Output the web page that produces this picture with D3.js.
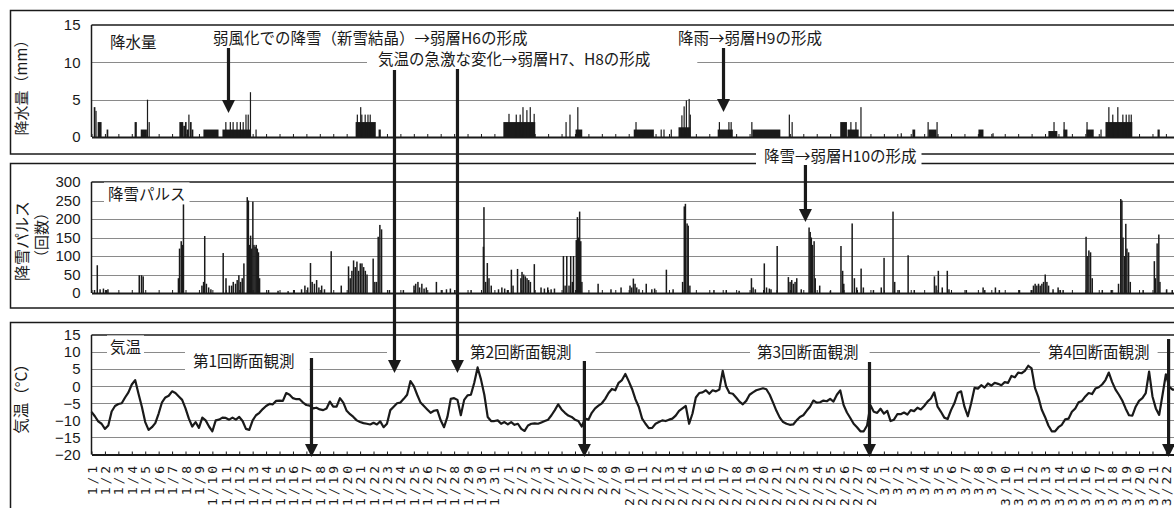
<!DOCTYPE html>
<html>
<head>
<meta charset="utf-8">
<script src="https://cdn.jsdelivr.net/npm/d3@7"></script>
<style>
  body { margin: 0; background: #fff; }
  svg { display: block; }
  text { font-family: "Noto Sans CJK JP", "Liberation Sans", sans-serif; fill: #1a1a1a; }
  .num { font-family: "Liberation Sans", Arial, sans-serif; }
</style>
</head>
<body>
<svg id="chart" width="1174" height="508"></svg>
<script>
// date labels, one per day from 1/1
const dayLabels = ("1/1 1/2 1/3 1/4 1/5 1/6 1/7 1/8 1/9 1/10 1/11 1/12 1/13 1/14 1/15 1/16 1/17 1/18 1/19 1/20 " +
  "1/21 1/22 1/23 1/24 1/25 1/26 1/27 1/28 1/29 1/30 1/31 2/1 2/2 2/3 2/4 2/5 2/6 2/7 2/8 2/9 2/10 " +
  "2/11 2/12 2/13 2/14 2/15 2/16 2/17 2/18 2/19 2/20 2/21 2/22 2/23 2/24 2/25 2/26 2/27 2/28 " +
  "3/1 3/2 3/3 3/4 3/5 3/6 3/7 3/8 3/9 3/10 3/11 3/12 3/13 3/14 3/15 3/16 3/17 3/18 3/19 3/20 3/21 3/22").split(" ");

// precipitation: [start hour from 1/1 0:00, hours, mm]
const precipRuns = [
  [4,3,4],[7,2,3.5],[11,7,2],[27,3,1],[77,4,2],[88,11,1],[99,2,5],[102,2,2],
  [157,7,2],[164,3,1.5],[167,3,2],[170,4,1],[173,2,3],[176,3,2],[179,3,1],
  [200,27,1],[234,50,1],[239,2,2],[247,2,2],[252,2,2],[259,2,2],[265,2,2],[270,2,2],
  [275,2,3],[279,2,3],[283,2,6],[293,2,1],
  [472,36,2],[474,2,3],[480,2,4],[482,2,3],[488,2,3],[493,2,3],[497,2,3],[513,4,1],
  [736,57,2],[745,2,3.1],[758,2,3],[765,2,3],[770,2,4],[777,2,3.6],[783,2,4],[790,2,3.1],
  [847,2,2],[854,2,3],[865,12,1],[868,2,4],
  [969,36,1],[972,2,2],[1017,2,1],[1022,2,1],[1035,2,1],
  [1049,21,1.3],[1054,2,2.9],[1058,2,4.1],[1062,2,4.9],[1067,2,5.1],[1069,2,3],
  [1119,27,1],[1121,2,2],[1138,2,2],[1142,2,2],[1179,2,2],[1181,50,1],
  [1246,2,3],[1251,2,2],[1338,12,2],[1351,20,1],[1356,2,2],[1365,2,2],[1374,2,4],
  [1446,2,0.5],[1467,5,1],[1494,2,2],[1496,14,1],[1510,2,2],[1585,9,1],[1610,2,0.5],
  [1710,16,0.8],[1719,2,2],[1737,2,2],[1737,7,1],[1778,2,2],[1778,13,1],
  [1803,2,1],[1812,48,2],[1817,2,4],[1824,2,3],[1833,2,4],[1842,2,3],[1848,2,3],
  [1853,2,3],[1857,2,3],[1905,4,1]
];

// snow pulse counts: [hour, count]
const pulseBars = [
  [4,8],[9,75],[14,10],[20,12],[25,8],[28,10],[84,48],[88,48],[91,45],
  [154,40],[156,120],[159,140],[161,130],[163,250],
  [196,20],[199,30],[201,154],[204,25],[208,15],[212,10],[234,108],[239,40],[245,20],
  [249,20],[252,30],[256,25],[259,35],[262,48],[265,30],[268,40],[271,80],
  [277,259],[279,250],[281,130],[283,155],[285,120],[287,247],[289,130],[291,125],
  [293,130],[295,120],[297,110],[299,40],
  [315,8],[332,6],[350,5],[361,8],[374,10],[380,20],[385,15],[390,81],[393,30],[397,25],
  [401,35],[405,15],[410,20],[415,10],[427,113],[445,20],
  [458,72],[461,40],[464,60],[467,88],[470,70],[473,85],[476,60],[479,80],[482,80],
  [485,70],[488,60],[491,50],[502,93],[505,30],[508,30],[511,152],[514,184],[517,172],
  [531,8],[556,8],[575,20],[578,25],[582,30],[585,15],[589,25],[593,12],[597,15],[615,30],
  [625,8],[633,10],[640,12],[648,8],[652,12],[677,8],
  [699,125],[700,232],[703,30],[706,81],[709,40],[713,20],[726,10],[732,15],[737,12],[742,8],
  [749,63],[752,20],[760,65],[766,40],[768,57],[771,50],[774,45],[777,40],[780,35],[783,30],
  [790,78],[802,15],[808,12],[814,15],[820,10],[826,12],
  [842,100],[845,20],[848,100],[852,20],[855,100],[858,30],[860,100],
  [865,143],[867,205],[869,150],[871,220],[873,140],[875,30],
  [904,25],[927,10],[945,15],[961,20],[964,15],[967,39],[970,25],[973,15],[977,10],[990,25],
  [1000,10],[1005,12],[1026,63],[1038,10],
  [1055,30],[1058,234],[1060,241],[1063,188],[1065,182],[1068,20],
  [1111,8],[1133,8],[1156,6],[1178,40],[1181,15],[1185,10],[1201,80],[1205,15],[1210,12],
  [1213,10],[1224,127],[1244,43],[1247,30],[1250,35],[1253,25],[1256,30],[1259,40],[1267,10],
  [1281,177],[1283,165],[1285,150],[1287,130],[1290,140],[1292,40],[1300,20],[1319,6],
  [1338,127],[1341,60],[1343,25],[1358,188],[1362,40],[1366,15],[1374,66],[1378,15],[1396,8],
  [1410,15],[1415,95],[1431,220],[1434,30],[1442,8],[1458,102],[1469,8],
  [1505,45],[1508,20],[1512,60],[1519,15],[1528,60],[1531,10],[1562,8],[1592,15],[1595,8],
  [1614,15],[1621,8],[1657,8],[1678,8],
  [1682,20],[1685,25],[1688,20],[1691,25],[1694,20],[1697,25],[1700,30],[1703,50],[1706,30],
  [1709,20],[1717,10],[1726,15],[1730,8],[1735,8],
  [1776,152],[1778,100],[1781,115],[1784,110],[1787,40],[1805,8],[1821,8],[1834,25],
  [1838,254],[1840,250],[1842,150],[1845,100],[1847,187],[1849,120],[1852,110],[1855,30],
  [1878,8],[1898,86],[1900,40],[1903,134],[1906,158],[1908,30],[1920,10],[1930,8]
];

// air temperature every 6 hours from 1/1 0:00 (°C)
const tempC = [
  -7.5,-8.8,-10.3,-11, -12.5,-11.5,-7.4,-5.8, -5.2,-5,-3.3,-1.8, 0.5,1.8,-2.2,-6,
  -10.5,-12.8,-12,-10.8, -8,-4.7,-3.3,-2.8, -1.5,-2,-3,-4, -6.5,-9.5,-11.8,-10.5,
  -12.2,-9.2,-10,-11.8, -13.2,-10,-9.8,-9.2, -9.3,-9.8,-9.2,-9.8, -9,-10.2,-12.5,-12.8,
  -10,-8.5,-7.8,-6.7, -5.8,-5.2,-5.3,-4.3, -4.2,-4.3,-2,-2.5, -3.5,-3.8,-3.8,-4.8,
  -5.5,-5.7,-6.5,-6.3, -6.8,-7,-6.5,-4.5, -6,-6,-3.5,-4.8, -7.2,-8.2,-9,-10,
  -10.5,-10.8,-11,-11.2, -10.7,-11.2,-10.3,-12, -11,-7,-6,-5, -4.8,-3.7,-2.5,1.5,
  0,-2.5,-4.8,-5.8, -6.8,-7.8,-7.2,-7, -10,-12,-9,-3.7, -3.5,-4,-8.5,-4,
  -2.7,-2.5,1,5.5, 2,-2.5,-9,-10.2, -10.2,-10,-11,-10.5, -11.2,-10.5,-11.3,-11,
  -12.5,-13.1,-11.5,-11, -10.9,-11,-10.6,-10.2, -9.8,-8.5,-7,-5.3, -6.8,-7.8,-8.6,-9,
  -9.8,-10.2,-11.8,-9.5, -9.8,-7.8,-6.5,-5.7, -5,-3.7,-2,-0.8, -1.2,1,1.8,3.6,
  1.5,-0.8,-3.8,-6, -9.5,-11,-12.3,-12.2, -11,-10.5,-10,-10.2, -9.8,-9.5,-8.6,-7.2,
  -6.5,-5.8,-11,-8, -3.3,-2,-1.8,-1.2, -2.2,-1.2,-1.5,-1, 4.5,0,-2,-2.2,
  -3.3,-4.5,-5.3,-4.3, -2.5,-1.8,-1.2,-0.9, -0.6,-0.9,-2.5,-4.8, -7.2,-9.2,-10.5,-11,
  -11.3,-11.2,-10,-9, -8.5,-7.2,-6,-4.2, -4.8,-4.7,-4.2,-4.4, -3.7,-4.5,-2.5,-1.2,
  -5.5,-7.7,-9.3,-11, -12,-13.2,-13.2,-11.5, -5.6,-7.5,-7.8,-6.6, -8,-7.2,-10.2,-9.8,
  -8.2,-8.2,-7.7,-8.3, -7,-7.3,-6.3,-6.8, -5.8,-4.5,-3.6,-1.8, -6,-7.5,-9.2,-9.6,
  -7,-5,-2,-1.5, -6,-8.8,-5,-0.5, -0.7,0.3,-0.4,0.8, 0.2,1,0.7,0.3,
  1.2,1,3,2.6, 4,3.8,4.5,6, 5.2,-0.5,-3.2,-6.8, -9,-11.5,-13.2,-13.2,
  -12,-11.3,-9.7,-9.5, -7.5,-6.5,-4.7,-4.3, -3,-2,-2.3,-0.7, -0.3,0.5,1.8,4,
  1.2,-1,-2.5,-4.2, -6.5,-8.5,-8.6,-6, -4.3,-3.5,-2,4.3, -3,-6.5,-8.4,-2.5,
  3.5,-0.2,-1,-1
];

const svg = d3.select("#chart");
const INK = "#1a1a1a";

const x = d3.scaleLinear().domain([0, 81]).range([91.5, 91.5 + 81 * 13.43]);
const hx = h => x(h / 24);

const yP = d3.scaleLinear().domain([0, 15]).range([137, 25]);
const yS = d3.scaleLinear().domain([0, 300]).range([293, 182]);
const yT = d3.scaleLinear().domain([-20, 15]).range([454.5, 335]);

// outer boxes
[[10.5, 154], [163.5, 308], [322.5, 530]].forEach(([t, b]) => {
  svg.append("rect")
    .attr("x", 10.5).attr("y", t)
    .attr("width", 1200).attr("height", b - t)
    .attr("fill", "none").attr("stroke", INK).attr("stroke-width", 1.5);
});

function panel(y, grid, ticks) {
  const g = svg.append("g");
  g.selectAll(".grid").data(grid).join("line")
    .attr("x1", x(0)).attr("x2", 1200)
    .attr("y1", d => Math.round(y(d)) + 0.5).attr("y2", d => Math.round(y(d)) + 0.5)
    .attr("stroke", "#8a8a8a").attr("stroke-width", 1);
  const [lo, hi] = y.domain();
  g.append("line").attr("x1", x(0)).attr("x2", 1200)
    .attr("y1", y(hi)).attr("y2", y(hi)).attr("stroke", INK).attr("stroke-width", 1.5);
  g.append("line").attr("x1", x(0)).attr("x2", x(0))
    .attr("y1", y(hi)).attr("y2", y(lo)).attr("stroke", INK).attr("stroke-width", 1.5);
  const ax = g.append("g")
    .attr("transform", `translate(${x(0)},0)`)
    .call(d3.axisLeft(y).tickValues(ticks).tickSize(0).tickPadding(11));
  ax.select(".domain").remove();
  ax.selectAll("text").attr("class", "num").style("font-size", "15px").attr("fill", INK);
  return g;
}

function baseline(y) {
  const [lo] = y.domain();
  const g = svg.append("g").attr("transform", `translate(0,${y(lo)})`)
    .call(d3.axisBottom(x).tickValues(d3.range(0, 82)).tickSize(-3).tickSizeOuter(0).tickFormat(""));
  g.select(".domain").attr("stroke", INK).attr("stroke-width", 2);
  g.selectAll(".tick line").attr("stroke", INK).attr("stroke-width", 1);
}

// ---- panel 1: precipitation
const p1 = panel(yP, [5, 10], [0, 5, 10, 15]);
p1.selectAll(".bar").data(precipRuns).join("rect")
  .attr("x", d => hx(d[0]))
  .attr("width", d => Math.max(1.2, hx(d[0] + d[1]) - hx(d[0])))
  .attr("y", d => yP(d[2]))
  .attr("height", d => yP(0) - yP(d[2]))
  .attr("fill", INK);
baseline(yP);

// ---- panel 2: snow pulses
const p2 = panel(yS, [50, 100, 150, 200, 250], [0, 50, 100, 150, 200, 250, 300]);
p2.selectAll(".bar").data(pulseBars).join("rect")
  .attr("x", d => hx(d[0]))
  .attr("width", 1.5)
  .attr("y", d => yS(d[1]))
  .attr("height", d => yS(0) - yS(d[1]))
  .attr("fill", INK);
baseline(yS);

// ---- panel 3: air temperature
const p3 = panel(yT, [10, 5, 0, -5, -10, -15], [15, 10, 5, 0, -5, -10, -15, -20]);
p3.append("path")
  .datum(tempC)
  .attr("fill", "none").attr("stroke", INK).attr("stroke-width", 2.2)
  .attr("stroke-linejoin", "round")
  .attr("d", d3.line().x((d, i) => x(i / 4)).y(d => yT(d)));
baseline(yT);

svg.append("g").selectAll("text").data(dayLabels).join("text")
  .attr("transform", (d, i) => `translate(${x(i) + 0.5},463) rotate(-90)`)
  .attr("text-anchor", "end").attr("dy", "0.35em")
  .style("font-family", "'DejaVu Sans Mono', monospace")
  .style("font-size", "13px").style("letter-spacing", "2.9px")
  .text(d => d);

// ---- axis titles
function vtitle(t, cx, cy, size) {
  svg.append("text").attr("transform", `translate(${cx},${cy}) rotate(-90)`)
    .attr("text-anchor", "middle").attr("dy", "0.35em")
    .style("font-size", size + "px").text(t);
}
vtitle("降水量（mm）", 22, 84, 15);
vtitle("降雪パルス", 22, 241, 16);
vtitle("（回数）", 42, 235, 15);
vtitle("気温（°C）", 22, 395, 15.5);

// ---- notes with white backing
function note(t, left, cy, size, padL = 4, padR = 4) {
  const g = svg.append("g");
  const r = g.append("rect").attr("fill", "#fff");
  const tx = g.append("text").attr("x", left).attr("y", cy).attr("dy", "0.35em")
    .style("font-size", size + "px").text(t);
  const b = tx.node().getBBox();
  r.attr("x", b.x - padL).attr("y", b.y).attr("width", b.width + padL + padR).attr("height", b.height);
}
note("降水量", 110, 43, 15.5);
note("降雪パルス", 108, 195, 15.5);
note("気温", 110, 348, 15.5, 3, 3);
note("弱風化での降雪（新雪結晶）→弱層H6の形成", 213, 39, 15.5);
note("気温の急激な変化→弱層H7、H8の形成", 378, 60, 15.5, 11, 47);
note("降雨→弱層H9の形成", 678, 39, 15.5);
note("降雪→弱層H10の形成", 764, 157, 15.5, 8, 5);
note("第1回断面観測", 193, 362, 15.5, 8, 15);
note("第2回断面観測", 470, 353, 15.5, 83, 24);
note("第3回断面観測", 757, 353, 15.5, 7, 11);
note("第4回断面観測", 1048, 353, 15.5, 8, 8);

// ---- arrows
function arrow(day, y1, y2) {
  const cx = x(day);
  svg.append("line").attr("x1", cx).attr("x2", cx).attr("y1", y1).attr("y2", y2 - 11)
    .attr("stroke", INK).attr("stroke-width", 3.2);
  svg.append("path")
    .attr("d", `M${cx - 6.5},${y2 - 13}L${cx + 6.5},${y2 - 13}L${cx},${y2}Z`)
    .attr("fill", INK);
}
arrow(10.2, 48, 113);
arrow(22.56, 70, 373);
arrow(27.25, 69, 373);
arrow(47.06, 48, 112);
arrow(53.16, 165, 222);
arrow(16.38, 358, 457);
arrow(36.7, 361, 457);
arrow(57.93, 362, 457);
arrow(80.2, 339, 457);
</script>
</body>
</html>
